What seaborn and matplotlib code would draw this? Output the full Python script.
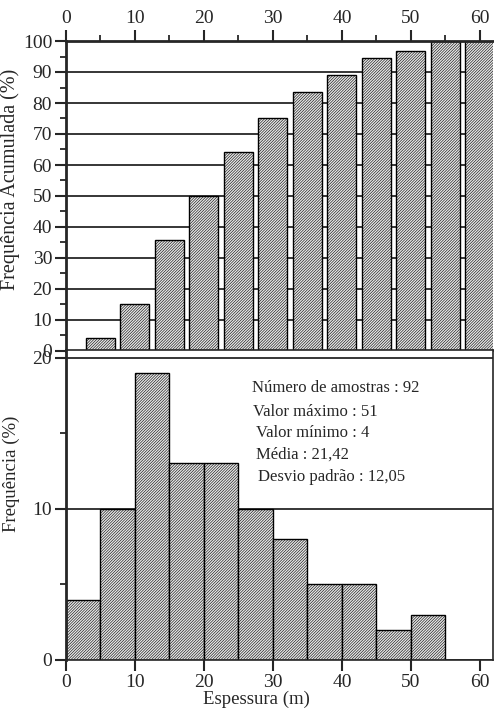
import numpy as np
import matplotlib
matplotlib.use("Agg")
import matplotlib.pyplot as plt
import seaborn as sns
from matplotlib.ticker import MultipleLocator

# ---- data ----
cum_x = [5, 10, 15, 20, 25, 30, 35, 40, 45, 50, 55, 60]
cum_pct = [4.3, 15.2, 35.9, 50.0, 64.1, 75.0, 83.7, 89.1, 94.6, 96.7, 100.0, 100.0]
bin_centers = [2.5, 7.5, 12.5, 17.5, 22.5, 27.5, 32.5, 37.5, 42.5, 47.5, 52.5]
freq = [4, 10, 19, 13, 13, 10, 8, 5, 5, 2, 3]
x_ticks = [0, 10, 20, 30, 40, 50, 60]
stats_lines = ["Número de amostras : 92", "Valor máximo : 51", "Valor mínimo : 4",
               "Média : 21,42", "Desvio padrão : 12,05"]

sns.set_style("ticks")
plt.rcParams["font.family"] = ["Liberation Serif", "DejaVu Serif"]
plt.rcParams["hatch.color"] = "#8a8a8a"
plt.rcParams["hatch.linewidth"] = 0.4

W, H = 494, 718
fig = plt.figure(figsize=(W / 100, H / 100), dpi=100)
L = 66 / W
Wd = (493 - 66) / W
ax1 = fig.add_axes([L, 1 - 351 / H, Wd, 310 / H])
ax2 = fig.add_axes([L, 1 - 660 / H, Wd, 310 / H])

bar_kw = dict(color="#e6e6e6", saturation=1, edgecolor="black", linewidth=1.0,
              hatch="/" * 12, errorbar=None, native_scale=True)

# ---- top: cumulative ----
ax1.set_axisbelow(True)
ax1.yaxis.grid(True, color="black", linewidth=1.1)
sns.barplot(x=cum_x, y=cum_pct, width=0.84, ax=ax1, **bar_kw)
ax1.set_xlim(0, 61.9)
ax1.set_ylim(0, 100)
ax1.xaxis.tick_top()
ax1.set_xticks(x_ticks)
ax1.xaxis.set_minor_locator(MultipleLocator(5))
ax1.yaxis.set_major_locator(MultipleLocator(10))
ax1.yaxis.set_minor_locator(MultipleLocator(5))
ax1.spines["right"].set_visible(False)
ax1.set_xlabel("")
ax1.set_ylabel("Frequência Acumulada (%)", fontsize=14.5)
ax1.yaxis.set_label_coords(-0.108, 0.555)

# ---- bottom: frequency ----
ax2.set_axisbelow(True)
ax2.yaxis.grid(True, color="black", linewidth=1.1)
sns.barplot(x=bin_centers, y=freq, width=1.0, ax=ax2, **bar_kw)
ax2.set_xlim(0, 61.9)
ax2.set_ylim(0, 20.5)
ax2.set_xticks(x_ticks)
ax2.yaxis.set_major_locator(MultipleLocator(10))
ax2.yaxis.set_minor_locator(MultipleLocator(5))
ax2.set_xlabel("Espessura (m)", fontsize=13.5)
ax2.xaxis.set_label_coords(0.445, -0.10)
ax2.set_ylabel("Frequência (%)", fontsize=13.5)
ax2.yaxis.set_label_coords(-0.108, 0.6)

text_pos = [(27.0, 18.0), (27.1, 16.4), (27.6, 15.0), (27.6, 13.6), (27.8, 12.1)]
for (tx, ty), s in zip(text_pos, stats_lines):
    ax2.text(tx, ty, s, fontsize=12, va="center", ha="left")

for ax in (ax1, ax2):
    ax.tick_params(which="major", direction="out", length=8, width=1.5, labelsize=14, pad=2)
    ax.tick_params(which="minor", direction="out", length=4, width=1.3)
    for sp in ax.spines.values():
        sp.set_linewidth(1.2)
    ax.spines["left"].set_linewidth(2)
ax1.spines["top"].set_linewidth(2)
ax1.tick_params(axis="x", which="both", top=True, bottom=False, labeltop=True, labelbottom=False)

fig.savefig("out.png", dpi=100)
